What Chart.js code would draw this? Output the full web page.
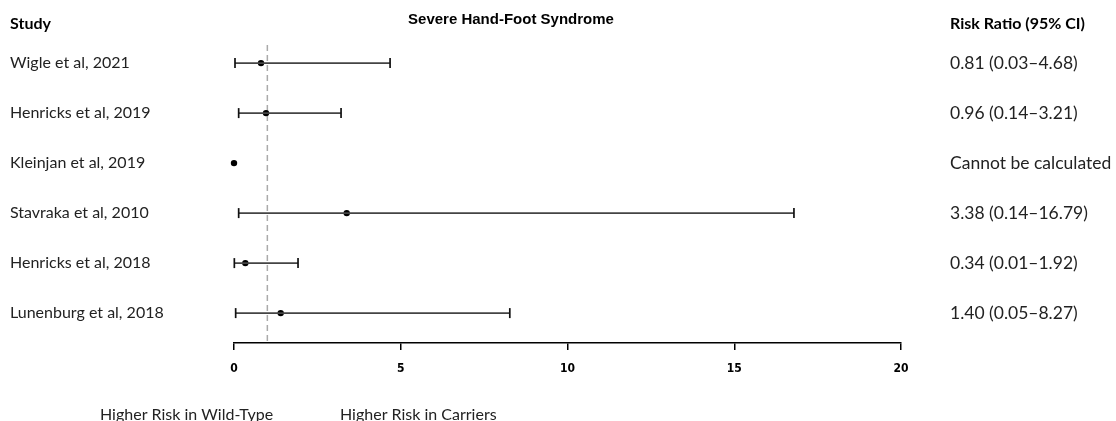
<!DOCTYPE html>
<html>
<head>
<meta charset="utf-8">
<script src="https://cdn.jsdelivr.net/npm/chart.js@4/dist/chart.umd.min.js"></script>
<style>
html,body{margin:0;padding:0;background:#fff;}
#wrap{width:1116px;height:421px;position:relative;}
</style>
</head>
<body>
<div id="wrap"><canvas id="c"></canvas></div>
<script>
// ---- data ----
const studies = ["Wigle et al, 2021","Henricks et al, 2019","Kleinjan et al, 2019","Stavraka et al, 2010","Henricks et al, 2018","Lunenburg et al, 2018"];
const riskRatio = [0.81, 0.96, 0, 3.38, 0.34, 1.40];
const ciLower = [0.03, 0.14, null, 0.14, 0.01, 0.05];
const ciUpper = [4.68, 3.21, null, 16.79, 1.92, 8.27];
const ciLabels = ["0.81 (0.03\u20134.68)","0.96 (0.14\u20133.21)","Cannot be calculated","3.38 (0.14\u201316.79)","0.34 (0.01\u20131.92)","1.40 (0.05\u20138.27)"];
const xTicks = [0, 5, 10, 15, 20];
const title = "Severe Hand-Foot Syndrome";
const refValue = 1;

const bodyFont = "Lato, 'Open Sans', sans-serif";
const datasets = [];
studies.forEach((s, i) => {
  if (ciLower[i] != null) {
    datasets.push({
      type: 'scatter',
      data: [{x: ciLower[i], y: i}, {x: ciUpper[i], y: i}],
      showLine: true,
      clip: false,
      borderColor: '#444',
      borderWidth: 1.7,
      pointStyle: 'line',
      rotation: 90,
      pointRadius: 5,
      pointBorderColor: '#111',
      pointBorderWidth: 1.7,
      pointHoverRadius: 5
    });
  }
});
datasets.push({
  type: 'scatter',
  data: riskRatio.map((v, i) => ({x: v, y: i})),
  clip: false,
  pointRadius: 3.2,
  pointBackgroundColor: '#000',
  pointBorderColor: '#000',
  pointBorderWidth: 0,
  showLine: false
});

const rowTicks = (scale) => { scale.ticks = studies.map((_, i) => ({value: i})); };

const overlay = {
  id: 'overlay',
  beforeDatasetsDraw(chart) {
    const {ctx, scales: {x}} = chart;
    const px = x.getPixelForValue(refValue);
    ctx.save();
    ctx.strokeStyle = '#aaaaaa';
    ctx.lineWidth = 1.5;
    ctx.setLineDash([6, 4]);
    ctx.beginPath();
    ctx.moveTo(px, 45);
    ctx.lineTo(px, 342);
    ctx.stroke();
    ctx.restore();
  },
  afterDraw(chart) {
    const {ctx} = chart;
    ctx.save();
    ctx.fillStyle = '#000';
    ctx.textBaseline = 'middle';
    ctx.textAlign = 'left';
    ctx.font = "bold 16px " + bodyFont;
    ctx.fillText("Study", 10, 24);
    ctx.fillText("Risk Ratio (95% CI)", 950, 24);
    ctx.textAlign = 'center';
    ctx.font = "bold 15px 'Liberation Sans', Arial, sans-serif";
    ctx.fillText(title, 511, 20);
    ctx.textAlign = 'left';
    ctx.font = "16px " + bodyFont;
    ctx.fillStyle = '#222';
    ctx.fillText("Higher Risk in Wild-Type", 100, 415);
    ctx.fillText("Higher Risk in Carriers", 340, 415);
    ctx.restore();
  }
};

new Chart(document.getElementById('c'), {
  data: {datasets},
  options: {
    responsive: true,
    maintainAspectRatio: false,
    animation: false,
    layout: {padding: {left: 10, right: 0, top: 23, bottom: 0}},
    plugins: {legend: {display: false}, tooltip: {enabled: false}, title: {display: false}},
    scales: {
      x: {
        type: 'linear', min: 0, max: 20,
        afterBuildTicks: (s) => { s.ticks = xTicks.map(v => ({value: v})); },
        afterFit: (s) => { s.height = 78; },
        grid: {drawOnChartArea: false, drawTicks: true, tickLength: 7, color: '#000', lineWidth: 1.5},
        border: {color: '#000', width: 1.5},
        ticks: {color: '#000', padding: 12, font: {family: "'Liberation Sans Narrow', 'DejaVu Sans Condensed', Arial", size: 12, weight: 'bold'}}
      },
      y: {
        type: 'linear', position: 'left', reverse: true, min: -0.072, max: 5.598,
        afterBuildTicks: rowTicks,
        afterFit: (s) => { s.width = 224; },
        grid: {display: false, drawTicks: false},
        border: {display: false},
        ticks: {crossAlign: 'far', color: '#222', font: {family: bodyFont, size: 16}, callback: (v) => studies[v]}
      },
      y2: {
        type: 'linear', position: 'right', reverse: true, min: -0.072, max: 5.598,
        afterBuildTicks: rowTicks,
        afterFit: (s) => { s.width = 215; },
        grid: {display: false, drawTicks: false},
        border: {display: false},
        ticks: {crossAlign: 'near', padding: 49, color: '#222', font: {family: bodyFont, size: 17.5}, callback: (v) => ciLabels[v]}
      }
    }
  },
  plugins: [overlay]
});
</script>
</body>
</html>
